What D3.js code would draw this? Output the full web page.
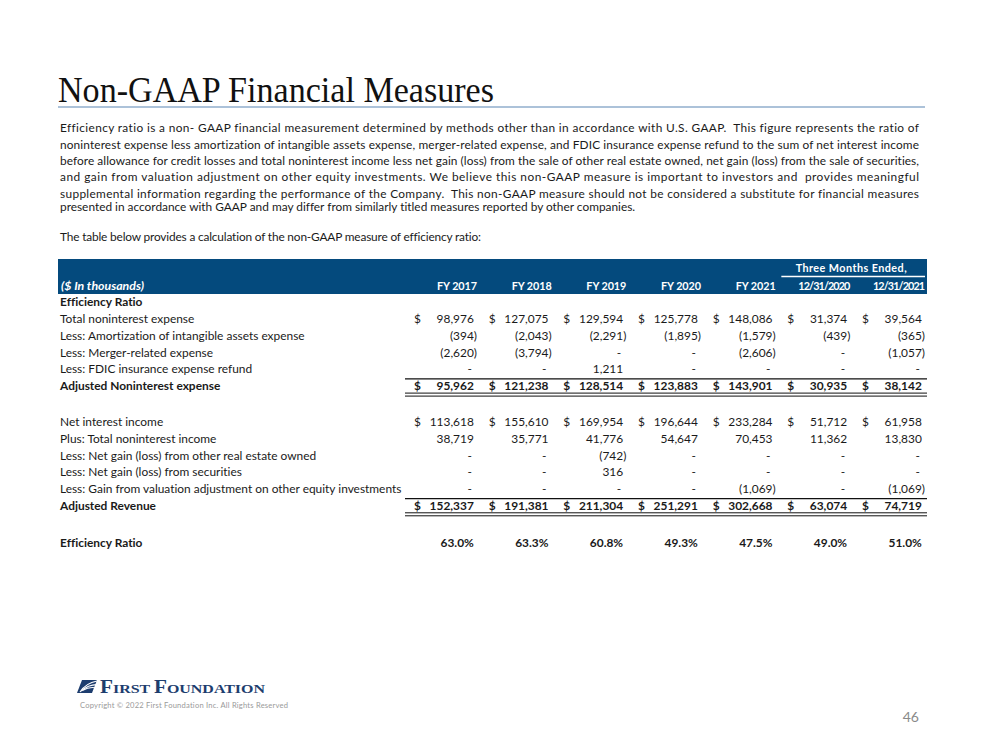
<!DOCTYPE html>
<html><head><meta charset="utf-8">
<script src="https://cdn.jsdelivr.net/npm/d3@7"></script>
<style>
html,body{margin:0;padding:0;background:#fff;}
svg{display:block;}
text{font-variant-ligatures:none;font-feature-settings:"liga" 0,"clig" 0;}
</style>
</head><body>
<svg id="chart" width="999" height="750"></svg>
<script>
// ---------------- DATA ----------------
const title = "Non-GAAP Financial Measures";
const paragraphLines = [
  "Efficiency ratio is a non- GAAP financial measurement determined by methods other than in accordance with U.S. GAAP.  This figure represents the ratio of",
  "noninterest expense less amortization of intangible assets expense, merger-related expense, and FDIC insurance expense refund to the sum of net interest income",
  "before allowance for credit losses and total noninterest income less net gain (loss) from the sale of other real estate owned, net gain (loss) from the sale of securities,",
  "and gain from valuation adjustment on other equity investments. We believe this non-GAAP measure is important to investors and  provides meaningful",
  "supplemental information regarding the performance of the Company.  This non-GAAP measure should not be considered a substitute for financial measures",
  "presented in accordance with GAAP and may differ from similarly titled measures reported by other companies."
];
const introLine = "The table below provides a calculation of the non-GAAP measure of efficiency ratio:";
const unitLabel = "($ In thousands)";
const groupLabel = "Three Months Ended,";
const periods = ["FY 2017", "FY 2018", "FY 2019", "FY 2020", "FY 2021", "12/31/2020", "12/31/2021"];
const quarterPeriods = ["12/31/2020", "12/31/2021"];

const totalNoninterestExpense   = [98976, 127075, 129594, 125778, 148086, 31374, 39564];
const amortizationIntangibles   = [-394, -2043, -2291, -1895, -1579, -439, -365];
const mergerRelatedExpense      = [-2620, -3794, 0, 0, -2606, 0, -1057];
const fdicRefund                = [0, 0, 1211, 0, 0, 0, 0];
const adjustedNoninterestExpense= [95962, 121238, 128514, 123883, 143901, 30935, 38142];
const netInterestIncome         = [113618, 155610, 169954, 196644, 233284, 51712, 61958];
const totalNoninterestIncome    = [38719, 35771, 41776, 54647, 70453, 11362, 13830];
const netGainOREO               = [0, 0, -742, 0, 0, 0, 0];
const netGainSecurities         = [0, 0, 316, 0, 0, 0, 0];
const valuationAdjustment       = [0, 0, 0, 0, -1069, 0, -1069];
const adjustedRevenue           = [152337, 191381, 211304, 251291, 302668, 63074, 74719];
const efficiencyRatio           = [63.0, 63.3, 60.8, 49.3, 47.5, 49.0, 51.0];

const copyrightText = "Copyright \u00A9 2022 First Foundation Inc. All Rights Reserved";
const pageNumber = "46";

// ---------------- TABLE MODEL ----------------
const rows = [
  {label: "Efficiency Ratio", idx: 0, bold: true, values: null},
  {label: "Total noninterest expense", idx: 1, values: totalNoninterestExpense, dollar: true},
  {label: "Less: Amortization of intangible assets expense", idx: 2, values: amortizationIntangibles},
  {label: "Less: Merger-related expense", idx: 3, values: mergerRelatedExpense},
  {label: "Less: FDIC insurance expense refund", idx: 4, values: fdicRefund},
  {label: "Adjusted Noninterest expense", idx: 5, values: adjustedNoninterestExpense, bold: true, dollar: true, total: true},
  {label: "Net interest income", idx: 7, values: netInterestIncome, dollar: true},
  {label: "Plus: Total noninterest income", idx: 8, values: totalNoninterestIncome},
  {label: "Less: Net gain (loss) from other real estate owned", idx: 9, values: netGainOREO},
  {label: "Less: Net gain (loss) from securities", idx: 10, values: netGainSecurities},
  {label: "Less: Gain from valuation adjustment on other equity investments", idx: 11, values: valuationAdjustment},
  {label: "Adjusted Revenue", idx: 12, values: adjustedRevenue, bold: true, dollar: true, total: true},
  {label: "Efficiency Ratio", idx: 14.25, values: efficiencyRatio, bold: true, percent: true}
];

// ---------------- DRAW ----------------
const svg = d3.select("#chart");
const BODY = "Lato, 'Open Sans', 'Noto Sans', sans-serif";
const SERIF = "'Liberation Serif', 'DejaVu Serif', serif";
const NAVY = "#044a7d";
const INK = "#1a1a1a";

svg.append("rect").attr("width", 999).attr("height", 750).attr("fill", "#fff");

function measure(text, size, weight, style, family) {
  const t = svg.append("text").attr("font-family", family || BODY).attr("font-size", size)
    .attr("font-weight", weight || "normal").attr("font-style", style || "normal").text(text);
  const w = t.node().getComputedTextLength();
  t.remove();
  return w;
}

// Title
svg.append("text").attr("x", 58).attr("y", 102)
  .attr("font-family", SERIF).attr("font-size", 35).attr("fill", "#111")
  .attr("textLength", 436).attr("lengthAdjust", "spacingAndGlyphs")
  .text(title);
svg.append("line").attr("x1", 58).attr("x2", 925).attr("y1", 107).attr("y2", 107)
  .attr("stroke", "#5a86b3").attr("stroke-width", 1.2);

// Paragraph
const paraSize = 576 / measure(paragraphLines[5], 100) * 100;
const paraY = [132, 148.5, 165, 181, 197.5, 211];
svg.append("g").selectAll("text").data(paragraphLines).join("text")
  .attr("x", 60).attr("y", (d, i) => paraY[i])
  .attr("font-family", BODY).attr("font-size", paraSize).attr("fill", INK)
  .attr("xml:space", "preserve")
  .each(function(d, i) {
    if (i < paragraphLines.length - 1) d3.select(this).attr("textLength", 859).attr("lengthAdjust", "spacing");
  })
  .text(d => d);
svg.append("text").attr("x", 60).attr("y", 241)
  .attr("font-family", BODY).attr("font-size", paraSize).attr("fill", INK)
  .attr("textLength", 421).attr("lengthAdjust", "spacing")
  .text(introLine);

// Scales
const x = d3.scalePoint().domain(periods).range([477, 925]);
const y = d3.scaleLinear().domain([0, 5, 7, 12, 14.25]).range([306, 390.3, 426, 510, 547]);

// Header band
svg.append("rect").attr("x", 58).attr("y", 259).attr("width", 869).attr("height", 35).attr("fill", NAVY);
const hdrSize = 10.8;
svg.append("text").attr("x", 61).attr("y", 290)
  .attr("font-family", BODY).attr("font-size", 11.5).attr("font-weight", "bold").attr("font-style", "italic")
  .attr("fill", "#fff").attr("textLength", 83).attr("lengthAdjust", "spacingAndGlyphs").text(unitLabel);
svg.append("g").selectAll("text").data(periods).join("text")
  .attr("x", d => x(d)).attr("y", 290).attr("text-anchor", "end")
  .attr("font-family", BODY).attr("font-size", hdrSize).attr("font-weight", "bold").attr("fill", "#fff")
  .attr("textLength", d => d.startsWith("FY") ? 40 : 52).attr("lengthAdjust", "spacing")
  .text(d => d);
const qx0 = x(quarterPeriods[0]) - 69, qx1 = x(quarterPeriods[1]);
svg.append("text").attr("x", (qx0 + qx1) / 2 - 2).attr("y", 272).attr("text-anchor", "middle")
  .attr("font-family", BODY).attr("font-size", hdrSize).attr("font-weight", "bold").attr("fill", "#fff")
  .attr("textLength", 111).attr("lengthAdjust", "spacing")
  .text(groupLabel);
svg.append("line").attr("x1", qx0).attr("x2", qx1).attr("y1", 276.5).attr("y2", 276.5)
  .attr("stroke", "#fff").attr("stroke-width", 1.5);

// Body text size
const bodySize = 342 / measure(rows[10].label, 100) * 100;
const parenW = measure(")", bodySize);
const fmt = d3.format(",");

function cellText(v, r) {
  if (r.percent) return d3.format(".1f")(v) + "%";
  if (v === 0) return "-";
  if (v < 0) return "(" + fmt(-v) + ")";
  return fmt(v);
}
function cellX(v, r, p) {
  if (r.percent) return x(p) - parenW;
  if (v === 0) return x(p) - parenW - 2;
  if (v < 0) return x(p);
  return x(p) - parenW;
}

const rowG = svg.append("g").selectAll("g").data(rows).join("g");
rowG.append("text").attr("x", 60).attr("y", d => y(d.idx))
  .attr("font-family", BODY).attr("font-size", bodySize)
  .attr("font-weight", d => d.bold ? "bold" : "normal").attr("fill", INK)
  .text(d => d.label);

rowG.filter(d => d.values).each(function(r) {
  const g = d3.select(this);
  const cells = periods.map((p, i) => ({p, v: r.values[i]}));
  g.selectAll("text.v").data(cells).join("text").attr("class", "v")
    .attr("x", c => cellX(c.v, r, c.p)).attr("y", y(r.idx)).attr("text-anchor", "end")
    .attr("font-family", BODY).attr("font-size", bodySize)
    .attr("font-weight", r.bold ? "bold" : "normal").attr("fill", INK)
    .text(c => cellText(c.v, r));
  if (r.dollar) {
    g.selectAll("text.d").data(periods).join("text").attr("class", "d")
      .attr("x", p => x(p) - 63).attr("y", y(r.idx))
      .attr("font-family", BODY).attr("font-size", bodySize)
      .attr("font-weight", r.bold ? "bold" : "normal").attr("fill", INK)
      .text("$");
  }
  if (r.total) {
    const lx0 = 405, lx1 = 927;
    const ys = y(r.idx - 1) + 5.5;
    g.append("line").attr("x1", lx0).attr("x2", lx1).attr("y1", ys).attr("y2", ys)
      .attr("stroke", "#111").attr("stroke-width", 1.3);
    [2.8, 5.8].forEach(off => {
      g.append("line").attr("x1", lx0).attr("x2", lx1).attr("y1", y(r.idx) + off).attr("y2", y(r.idx) + off)
        .attr("stroke", "#111").attr("stroke-width", 1);
    });
  }
});

// Footer logo
const logo = svg.append("g");
logo.append("path")
  .attr("d", "M82,680 L97,680 L92,693 L77,693 Z").attr("fill", "#1d3d6e");
[0, 4, 8].forEach(o => {
  logo.append("path")
    .attr("d", `M${80 + o * 0.3},${692 - o * 0.2} Q${86 + o * 0.5},${683 + o * 0.4} ${97},${681 + o * 0.9}`)
    .attr("fill", "none").attr("stroke", "#fff").attr("stroke-width", 1.1);
});
const lt = logo.append("text").attr("x", 100).attr("y", 693)
  .attr("font-family", SERIF).attr("font-weight", "bold").attr("fill", "#1d3d6e")
  .attr("textLength", 165).attr("lengthAdjust", "spacingAndGlyphs");
lt.append("tspan").attr("font-size", 18).text("F");
lt.append("tspan").attr("font-size", 13.5).text("IRST ");
lt.append("tspan").attr("font-size", 18).text("F");
lt.append("tspan").attr("font-size", 13.5).text("OUNDATION");

svg.append("text").attr("x", 80).attr("y", 708)
  .attr("font-family", BODY).attr("font-size", 7.6).attr("fill", "#9a9a9a")
  .attr("textLength", 208).attr("lengthAdjust", "spacing")
  .text(copyrightText);

svg.append("text").attr("x", 919).attr("y", 722).attr("text-anchor", "end")
  .attr("font-family", BODY).attr("font-size", 14).attr("fill", "#8a8a8a")
  .text(pageNumber);
</script>
</body></html>
